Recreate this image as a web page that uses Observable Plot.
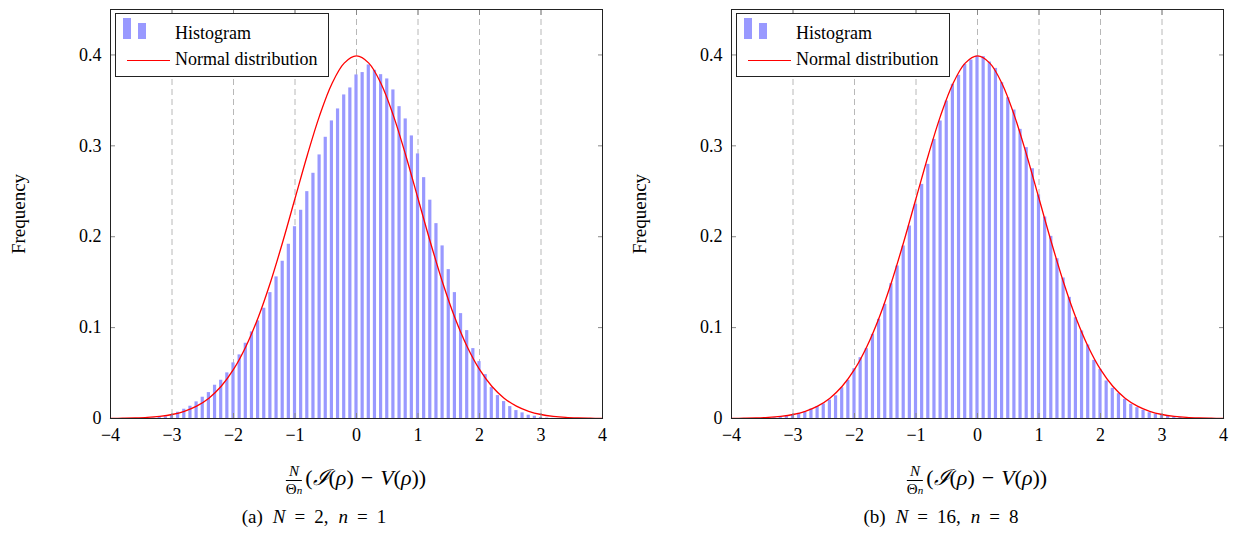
<!DOCTYPE html>
<html><head><meta charset="utf-8">
<script src="https://cdn.jsdelivr.net/npm/d3@7"></script>
<script src="https://cdn.jsdelivr.net/npm/@observablehq/plot@0.6"></script>
<style>
body{margin:0;background:#fff;font-family:"Liberation Serif","DejaVu Serif",serif;color:#000;}
#wrap{position:relative;width:1238px;height:546px;overflow:hidden;}
.panel{position:absolute;top:0;width:619px;height:546px;}
.panel svg{position:absolute;left:0;top:0;}
.legend{position:absolute;width:212px;height:62px;border:1px solid #222;background:#fff;}
.legend .lb{position:absolute;background:#9999ff;}
.legend .ll{position:absolute;height:0;border-top:1.3px solid #ff0000;}
.legend .lt{position:absolute;left:59px;font-size:18px;line-height:1;white-space:nowrap;}
.xlabel{position:absolute;font-size:22px;white-space:nowrap;transform:translateX(-50%);line-height:1;}
.xlabel .op{margin:0 7px;}
.frac{display:inline-block;vertical-align:middle;text-align:center;font-size:15px;line-height:1.1;margin-right:3px;}
.frac .num{display:block;border-bottom:0.9px solid #000;padding:0 1px;}
.frac .den{display:block;}
.frac .den i{font-size:11px;}
.caption{position:absolute;font-size:19px;white-space:nowrap;transform:translateX(-50%);line-height:1;}
.caption .eq{margin:0 9px;}
.caption .gap{margin-left:10px;}
</style>
</head><body>
<div id="wrap">
  <div class="panel" id="pa" style="left:0px">
    <div class="legend" style="left:115px;top:13px">
      <div class="lb" style="left:7px;top:4px;width:8px;height:21px"></div>
      <div class="lb" style="left:22px;top:9px;width:8px;height:16px"></div>
      <div class="lt" style="top:10px">Histogram</div>
      <div class="ll" style="left:11px;top:46px;width:43px"></div>
      <div class="lt" style="top:36px">Normal distribution</div>
    </div>
    <div class="xlabel" style="left:356px;top:463px"><span class="frac"><span class="num"><i>N</i></span><span class="den">Θ<i>n</i></span></span>(<i>ℐ</i>(<i>ρ</i>)<span class="op">−</span><i>V</i>(<i>ρ</i>))</div>
    <div class="caption" style="left:314px;top:507px">(a)<span class="gap"></span><i>N</i><span class="eq">=</span>2,<span class="gap"></span><i>n</i><span class="eq">=</span>1</div>
  </div>
  <div class="panel" id="pb" style="left:619px">
    <div class="legend" style="left:117px;top:13px">
      <div class="lb" style="left:7px;top:4px;width:8px;height:21px"></div>
      <div class="lb" style="left:22px;top:9px;width:8px;height:16px"></div>
      <div class="lt" style="top:10px">Histogram</div>
      <div class="ll" style="left:11px;top:46px;width:43px"></div>
      <div class="lt" style="top:36px">Normal distribution</div>
    </div>
    <div class="xlabel" style="left:358px;top:463px"><span class="frac"><span class="num"><i>N</i></span><span class="den">Θ<i>n</i></span></span>(<i>ℐ</i>(<i>ρ</i>)<span class="op">−</span><i>V</i>(<i>ρ</i>))</div>
    <div class="caption" style="left:322px;top:507px">(b)<span class="gap"></span><i>N</i><span class="eq">=</span>16,<span class="gap"></span><i>n</i><span class="eq">=</span>8</div>
  </div>
</div>
<script>
// ---- data ----
const binCenters = [-3.3,-3.2,-3.1,-3.0,-2.9,-2.8,-2.7,-2.6,-2.5,-2.4,-2.3,-2.2,-2.1,-2.0,-1.9,-1.8,-1.7,-1.6,-1.5,-1.4,-1.3,-1.2,-1.1,-1.0,-0.9,-0.8,-0.7,-0.6,-0.5,-0.4,-0.3,-0.2,-0.1,0.0,0.1,0.2,0.3,0.4,0.5,0.6,0.7,0.8,0.9,1.0,1.1,1.2,1.3,1.4,1.5,1.6,1.7,1.8,1.9,2.0,2.1,2.2,2.3,2.4,2.5,2.6,2.7,2.8,2.9,3.0,3.1,3.2,3.3];

// (a) N = 2, n = 1
const freqA = [0.0005,0.0012,0.0018,0.0040,0.0069,0.0102,0.0135,0.0183,0.0234,0.0285,0.0366,0.0421,0.0502,0.0612,0.0700,0.0828,0.0953,0.1074,0.1213,0.1385,0.1558,0.1730,0.1917,0.2110,0.2291,0.2496,0.2698,0.2900,0.3094,0.3274,0.3406,0.3560,0.3637,0.3780,0.3806,0.3890,0.3831,0.3783,0.3736,0.3615,0.3431,0.3296,0.3109,0.2911,0.2650,0.2402,0.2144,0.1899,0.1638,0.1385,0.1154,0.0967,0.0769,0.0626,0.0483,0.0340,0.0252,0.0186,0.0131,0.0087,0.0062,0.0036,0.0025,0.0012,0.0005,0.0002,0.0000];

// (b) N = 16, n = 8
const freqB = [0.0008,0.0011,0.0024,0.0038,0.0057,0.0071,0.0104,0.0130,0.0160,0.0203,0.0250,0.0339,0.0420,0.0548,0.0669,0.0768,0.0926,0.1091,0.1256,0.1483,0.1678,0.1898,0.2118,0.2356,0.2576,0.2796,0.3071,0.3273,0.3493,0.3677,0.3776,0.3897,0.3944,0.3988,0.3981,0.3922,0.3852,0.3695,0.3529,0.3394,0.3181,0.2980,0.2748,0.2460,0.2217,0.2004,0.1758,0.1546,0.1333,0.1109,0.0963,0.0809,0.0640,0.0541,0.0413,0.0332,0.0273,0.0211,0.0156,0.0119,0.0090,0.0064,0.0046,0.0035,0.0024,0.0016,0.0010];

// normal distribution curve, read at 0.2 steps
const curveX = [-4.0,-3.8,-3.6,-3.4,-3.2,-3.0,-2.8,-2.6,-2.4,-2.2,-2.0,-1.8,-1.6,-1.4,-1.2,-1.0,-0.8,-0.6,-0.4,-0.2,0.0,0.2,0.4,0.6,0.8,1.0,1.2,1.4,1.6,1.8,2.0,2.2,2.4,2.6,2.8,3.0,3.2,3.4,3.6,3.8,4.0];
const curveY = [0.0001,0.0003,0.0006,0.0012,0.0024,0.0044,0.0079,0.0136,0.0224,0.0355,0.0540,0.0790,0.1109,0.1497,0.1942,0.2420,0.2897,0.3332,0.3683,0.3910,0.3989,0.3910,0.3683,0.3332,0.2897,0.2420,0.1942,0.1497,0.1109,0.0790,0.0540,0.0355,0.0224,0.0136,0.0079,0.0044,0.0024,0.0012,0.0006,0.0003,0.0001];

const xTicks = [-4,-3,-2,-1,0,1,2,3,4];
const xTickLabels = ["−4","−3","−2","−1","0","1","2","3","4"];
const gridTicks = [-3,-2,-1,0,1,2,3];
const yTicks = [0,0.1,0.2,0.3,0.4];
const yTickLabels = ["0","0.1","0.2","0.3","0.4"];
const yLabel = "Frequency";

const barHalf = 0.026;
const xLab = new Map(xTicks.map((t,i)=>[t,xTickLabels[i]]));
const yLab = new Map(yTicks.map((t,i)=>[t,yTickLabels[i]]));

function makePanel(values, ml, mr) {
  const bars = binCenters.map((x,i)=>({x, v: values[i]}));
  const curve = curveX.map((x,i)=>({x, y: curveY[i]}));
  return Plot.plot({
    width: 619, height: 448,
    marginLeft: ml, marginRight: mr, marginTop: 9, marginBottom: 30,
    style: {fontFamily: "'Liberation Serif', serif", fontSize: "18px", background: "transparent", color: "#000"},
    x: {domain: [-4, 4]},
    y: {domain: [0, 0.45]},
    marks: [
      Plot.gridX(gridTicks, {stroke: "#b8b8b8", strokeOpacity: 1, strokeDasharray: "6,4"}),
      Plot.rectY(bars, {x1: d => d.x - barHalf, x2: d => d.x + barHalf, y1: 0, y2: "v", fill: "#9999ff"}),
      Plot.line(curve, {x: "x", y: "y", stroke: "#ff0000", strokeWidth: 1.3, curve: "catmull-rom"}),
      Plot.axisX(xTicks, {anchor: "bottom", tickSize: 0, tickPadding: 10, fontSize: 18, tickFormat: d => xLab.get(d), label: null}),
      Plot.axisY(yTicks, {anchor: "left", tickSize: 0, tickPadding: 9, fontSize: 18, tickFormat: d => yLab.get(d), label: null}),
      Plot.axisY(yTicks, {anchor: "left", tickSize: 0, fontSize: 19, tickFormat: () => "", label: yLabel, labelAnchor: "center", labelArrow: "none", labelOffset: 99}),
      Plot.axisX(xTicks, {anchor: "bottom", tickSize: 5, dy: -5, fill: "none", stroke: "#888", label: null}),
      Plot.axisX(xTicks, {anchor: "top", tickSize: 5, dy: 5, fill: "none", stroke: "#888", label: null}),
      Plot.axisY(yTicks, {anchor: "left", tickSize: 5, dx: 5, fill: "none", stroke: "#888", label: null}),
      Plot.axisY(yTicks, {anchor: "right", tickSize: 5, dx: -5, fill: "none", stroke: "#888", label: null}),
      Plot.frame({stroke: "#222"})
    ]
  });
}

const pa = document.getElementById("pa");
pa.insertBefore(makePanel(freqA, 110, 17), pa.firstChild);
const pb = document.getElementById("pb");
pb.insertBefore(makePanel(freqB, 112, 15), pb.firstChild);
</script>
</body></html>
